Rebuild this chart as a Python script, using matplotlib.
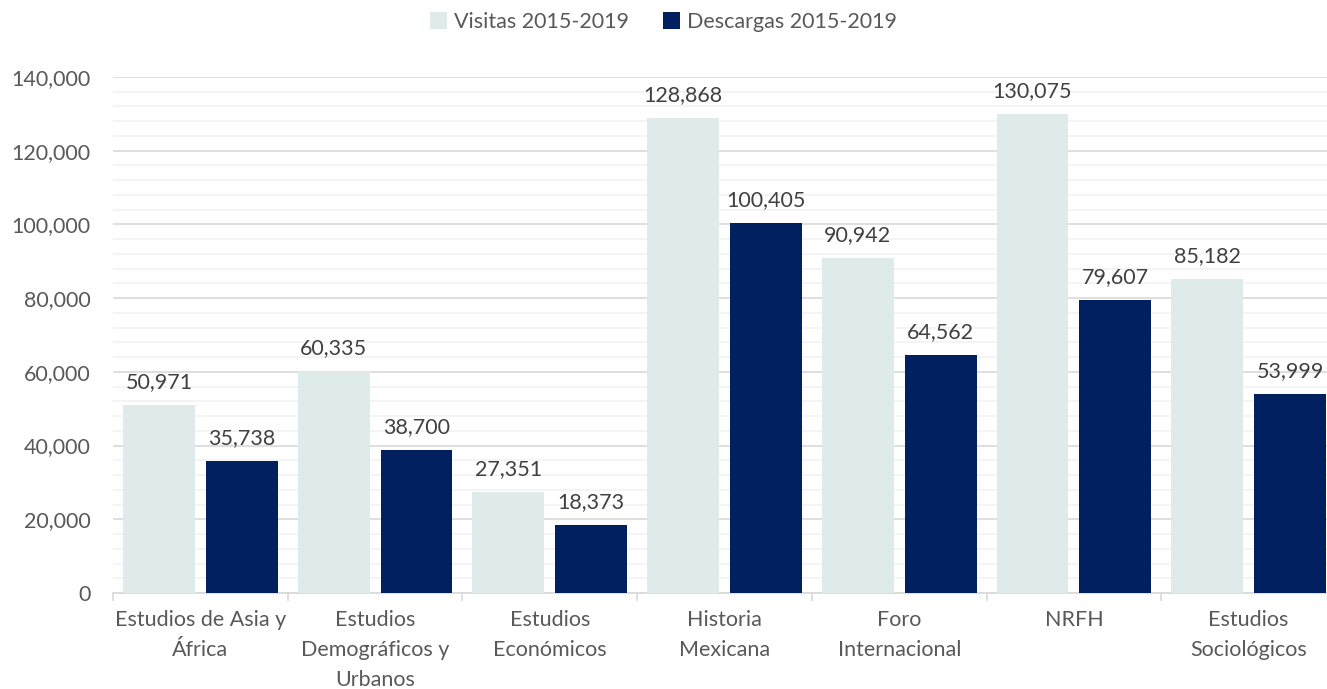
import matplotlib
matplotlib.use("Agg")
import matplotlib.pyplot as plt
import numpy as np
from matplotlib.ticker import FuncFormatter, MultipleLocator

categories = ["Estudios de Asia y\nÁfrica", "Estudios\nDemográficos y\nUrbanos", "Estudios\nEconómicos",
              "Historia\nMexicana", "Foro\nInternacional", "NRFH", "Estudios\nSociológicos"]
visitas = [50971, 60335, 27351, 128868, 90942, 130075, 85182]
descargas = [35738, 38700, 18373, 100405, 64562, 79607, 53999]
series_names = ["Visitas 2015-2019", "Descargas 2015-2019"]

plt.rcParams['font.family'] = ['Lato', 'DejaVu Sans']
txt = '#595959'
light = '#DFEBEB'
dark = '#002060'
fs = 15.5

fig = plt.figure(figsize=(13.27, 6.89), dpi=100)
ax = fig.add_axes([113/1327, 1-593/689, 1223/1327, (593-77)/689])

x = np.arange(len(categories))
w = 72/175
gap = 11/175
b1 = ax.bar(x - (w+gap)/2, visitas, w, color=light, label=series_names[0], zorder=3)
b2 = ax.bar(x + (w+gap)/2, descargas, w, color=dark, label=series_names[1], zorder=3)

for bars, vals in ((b1, visitas), (b2, descargas)):
    for r, v in zip(bars, vals):
        ax.text(r.get_x() + r.get_width()/2, v + 3500, f"{v:,}", ha='center', va='bottom',
                fontsize=fs, color='#404040')

ax.set_xlim(-0.5, len(categories) - 0.5)
ax.set_ylim(0, 140000)
ax.yaxis.set_major_locator(MultipleLocator(20000))
ax.yaxis.set_minor_locator(MultipleLocator(4000))
ax.yaxis.set_major_formatter(FuncFormatter(lambda v, p: f"{int(v):,}"))
ax.grid(axis='y', which='major', color='#D9D9D9', linewidth=1.2, zorder=0)
ax.grid(axis='y', which='minor', color='#F2F2F2', linewidth=1.2, zorder=0)
ax.set_axisbelow(True)
for s in ['top', 'right', 'left']:
    ax.spines[s].set_visible(False)
ax.spines['bottom'].set_color('#D9D9D9')
ax.spines['bottom'].set_linewidth(1.2)
ax.tick_params(axis='y', which='both', length=0, labelsize=fs, labelcolor=txt, pad=16)

ax.set_xticks(x)
ax.set_xticklabels(categories, fontsize=fs, color=txt, linespacing=1.65)
ax.tick_params(axis='x', which='major', length=0, pad=12)
ax.set_xticks(np.arange(len(categories) + 1) - 0.5, minor=True)
ax.tick_params(axis='x', which='minor', length=6, color='#D9D9D9', width=1.2)

fig.legend(handles=[b1, b2], labels=series_names, loc='center', bbox_to_anchor=(0.5, 1-22/689),
           ncol=2, frameon=False, fontsize=fs, labelcolor=txt, handlelength=0.8, handleheight=0.8,
           handletextpad=0.3, columnspacing=1.6)

fig.savefig("out.png", dpi=100)
